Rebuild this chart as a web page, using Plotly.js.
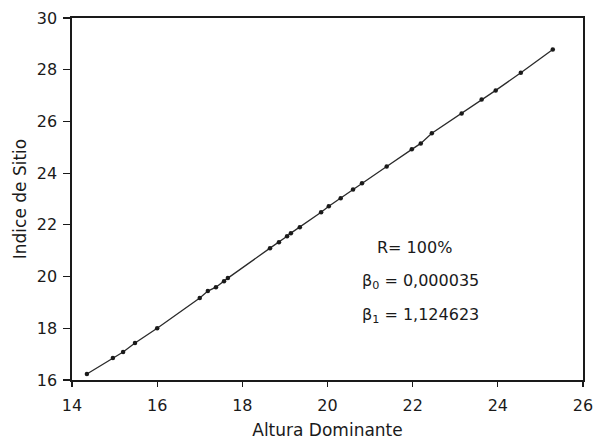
<!DOCTYPE html>
<html>
<head>
<meta charset="utf-8">
<script src="https://cdn.plot.ly/plotly-3.0.1.min.js"></script>
<style>
  html, body { margin: 0; padding: 0; background: #ffffff; }
  #chart { width: 598px; height: 440px; }
</style>
</head>
<body>
<div id="chart"></div>
<script>
// Dominant height vs. site index observations
const alturaDominante = [
  14.35, 14.96, 15.20, 15.48, 16.00, 17.00, 17.19, 17.38, 17.57, 17.66,
  18.65, 18.86, 19.05, 19.14, 19.35, 19.85, 20.03, 20.31, 20.60, 20.81,
  21.39, 21.98, 22.19, 22.45, 23.15, 23.62, 23.95, 24.54, 25.29
];
const indiceSitio = [
  16.23, 16.85, 17.08, 17.43, 18.00, 19.17, 19.44, 19.59, 19.82, 19.94,
  21.10, 21.33, 21.56, 21.68, 21.91, 22.49, 22.72, 23.03, 23.37, 23.61,
  24.26, 24.92, 25.15, 25.54, 26.31, 26.85, 27.20, 27.88, 28.78
];

const xTicks = [14, 16, 18, 20, 22, 24, 26];
const yTicks = [16, 18, 20, 22, 24, 26, 28, 30];

// Regression summary shown inside the plot
const statLines = [
  'R= 100%',
  'β<sub>0</sub> = 0,000035',
  'β<sub>1</sub> = 1,124623'
];
const statX = [21.11, 20.76, 20.76];
const statY = [21.14, 19.82, 18.51];

const ink = '#1a1a1a';
const font = { family: 'DejaVu Sans, Arial, sans-serif', color: ink };

const trace = {
  x: alturaDominante,
  y: indiceSitio,
  type: 'scatter',
  mode: 'lines+markers',
  line: { color: '#2a2a2a', width: 1.3 },
  marker: { color: '#1a1a1a', size: 4.5 },
  hoverinfo: 'x+y'
};

const layout = {
  width: 598,
  height: 440,
  margin: { l: 72, r: 15, t: 18, b: 60 },
  paper_bgcolor: '#ffffff',
  plot_bgcolor: '#ffffff',
  showlegend: false,
  font: Object.assign({ size: 16 }, font),
  xaxis: {
    range: [14, 26],
    tickvals: xTicks,
    ticktext: xTicks.map(String),
    ticks: 'outside',
    ticklen: 5,
    tickwidth: 1.2,
    tickcolor: ink,
    ticklabelstandoff: 5,
    showline: true,
    linecolor: ink,
    linewidth: 1.6,
    mirror: true,
    showgrid: false,
    zeroline: false,
    tickfont: Object.assign({ size: 16 }, font),
    title: { text: 'Altura Dominante', font: Object.assign({ size: 17 }, font), standoff: 12 }
  },
  yaxis: {
    range: [16, 30],
    tickvals: yTicks,
    ticktext: yTicks.map(String),
    ticks: 'outside',
    ticklen: 7,
    tickwidth: 1.2,
    tickcolor: ink,
    ticklabelstandoff: 3,
    showline: true,
    linecolor: ink,
    linewidth: 1.6,
    mirror: true,
    showgrid: false,
    zeroline: false,
    tickfont: Object.assign({ size: 16 }, font),
    title: { text: 'Indice de Sitio', font: Object.assign({ size: 17 }, font), standoff: 6 }
  },
  annotations: statLines.map((t, i) => ({
    x: statX[i],
    y: statY[i],
    xref: 'x',
    yref: 'y',
    text: t,
    showarrow: false,
    xanchor: 'left',
    yanchor: 'middle',
    font: Object.assign({ size: 16 }, font)
  }))
};

Plotly.newPlot('chart', [trace], layout, { displayModeBar: false, staticPlot: true });
</script>
</body>
</html>
